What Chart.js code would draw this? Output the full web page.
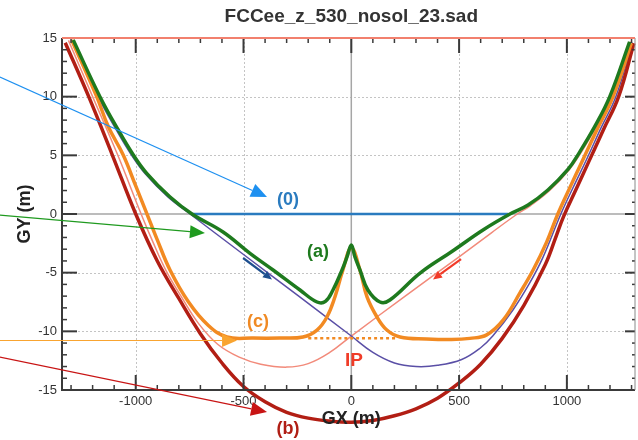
<!DOCTYPE html>
<html><head><meta charset="utf-8">
<script src="https://cdn.jsdelivr.net/npm/chart.js@4"></script>
<style>html,body{margin:0;padding:0;background:#fff}</style>
</head><body>
<canvas id="c" width="638" height="440"></canvas>
<script>
// ---- data (GX in m, GY in m) ----
const title = "FCCee_z_530_nosol_23.sad";
const xTickValues = [-1000, -500, 0, 500, 1000];
const yTickValues = [-15, -10, -5, 0, 5, 10, 15];

// (a) green
const aX = [-1290,-1166,-1081,-1011,-949,-842,-739,-595,-470,-363,-238,-159,-120,-85,-43,-20,0,17,40,77,133,179,319,470,611,736,820,912,1005,1060,1129,1199,1291];
const aY = [14.83,10.0,7.16,5.03,3.47,1.47,0,-1.53,-3.35,-4.77,-6.48,-7.5,-7.45,-6.48,-4.77,-3.66,-2.64,-3.66,-4.77,-6.48,-7.5,-7.33,-5.03,-3.15,-1.36,0,0.77,2.05,3.8,5.3,7.44,10.0,14.68];

// (c) orange
const cX = [-1297,-1181,-1127,-1058,-1000,-949,-900,-841,-755,-663,-577,-456,-331,-224,-159,-113,-76,-39,0,40,73,119,165,226,350,465,550,628,705,783,844,906,958,1010,1070,1140,1214,1299];
const cY = [14.83,10.0,7.44,5.03,2.4,0.06,-2.2,-4.77,-7.5,-9.5,-10.48,-10.57,-10.57,-10.48,-9.89,-8.78,-7.07,-4.77,-2.9,-4.77,-7.07,-8.78,-9.89,-10.48,-10.65,-10.7,-10.6,-10.3,-9.03,-6.7,-4.75,-2.4,0,2.1,4.45,7.2,10.0,14.55];

// (b) dark red
const bX = [-1327,-1218,-1108,-1000,-900,-800,-700,-600,-500,-400,-300,-200,-100,0,100,200,300,400,500,600,700,800,900,950,985,1040,1100,1170,1240,1311];
const bY = [14.6,10,5,0,-4.0,-7.2,-10.2,-12.7,-14.7,-16.0,-16.9,-17.4,-17.65,-17.75,-17.6,-17.2,-16.6,-15.7,-14.4,-12.8,-10.6,-7.8,-4.3,-1.9,-0.2,2.0,4.4,7.2,10,14.55];

// thin purple (left beam line through IP)
const purpleX = [-1298,-1175,-1090,-1020,-958,-852,-748,-500,-250,0,100,200,300,400,512,600,656,749,827,889,972,1030,1090,1160,1227,1305];
const purpleY = [14.83,10,7.16,5.03,3.47,1.47,0,-3.45,-6.92,-10.4,-11.8,-12.7,-13.0,-12.9,-12.4,-11.4,-10.4,-8.2,-5.9,-3.7,0,2.3,4.6,7.4,10,14.6];

// thin pink (right beam line through IP)
const pinkX = [-1312,-1200,-1083,-975,-920,-860,-790,-710,-620,-520,-420,-300,-200,-100,0,250,500,650,770,830,920,1012,1068,1135,1205,1296];
const pinkY = [14.8,10,5,0,-2.4,-4.8,-7.0,-9.3,-11.1,-12.2,-12.8,-13.05,-12.75,-11.8,-10.4,-7.0,-3.65,-1.6,0,0.7,2.0,3.8,5.3,7.4,10,14.7];

// (0) reference orbit
const zeroLineX = [-738, 728];
const zeroLineY = [0, 0];

// IP level (dotted)
const ipLevelX = [-200, 214];
const ipLevelY = [-10.6, -10.6];

// ---- annotations (in data coordinates) ----
const arrows = [
  {from:[-1630,11.68], to:[-391,1.45],  color:'#1e90f0', lw:1.2, hl:16, hw:14},
  {from:[-1630,-0.09], to:[-679,-1.62], color:'#1f9a1f', lw:1.2, hl:15, hw:13},
  {from:[-1630,-10.78],to:[-530,-10.78],color:'#f9a430', lw:1.2, hl:15, hw:13},
  {from:[-1630,-12.19],to:[-391,-16.88],color:'#c81414', lw:1.2, hl:16, hw:14},
  {from:[-502,-3.75],  to:[-368,-5.58], color:'#1d4f8f', lw:2.2, hl:9,  hw:8},
  {from:[509,-3.84],   to:[379,-5.58],  color:'#f23a28', lw:2.2, hl:9,  hw:8}
];
const labels = [
  {text:'(0)', at:[-294,1.19],   color:'#2a7bbf', size:18},
  {text:'(a)', at:[-154,-3.24],  color:'#1e7a1e', size:18},
  {text:'(c)', at:[-433,-9.2],   color:'#f08a24', size:18},
  {text:'IP',  at:[12,-12.53],   color:'#f03c28', size:19},
  {text:'(b)', at:[-294,-18.32], color:'#b01e14', size:18}
];

const pts = (xs, ys) => xs.map((x, i) => ({x, y: ys[i]}));
const FONT = "'Liberation Sans', Arial, Helvetica, sans-serif";

function arrow(ctx, x1, y1, x2, y2, color, lw, hl, hw) {
  const ang = Math.atan2(y2 - y1, x2 - x1);
  const bx = x2 - hl * Math.cos(ang), by = y2 - hl * Math.sin(ang);
  ctx.strokeStyle = color; ctx.lineWidth = lw;
  ctx.beginPath(); ctx.moveTo(x1, y1); ctx.lineTo(bx, by); ctx.stroke();
  ctx.fillStyle = color; ctx.beginPath(); ctx.moveTo(x2, y2);
  ctx.lineTo(bx + hw / 2 * Math.sin(ang), by - hw / 2 * Math.cos(ang));
  ctx.lineTo(bx - hw / 2 * Math.sin(ang), by + hw / 2 * Math.cos(ang));
  ctx.closePath(); ctx.fill();
}

const framePlugin = {
  id: 'frame',
  beforeDatasetsDraw(chart) {
    const {ctx, chartArea: a, scales: {x, y}} = chart;
    ctx.save();
    ctx.strokeStyle = '#c4c4c4'; ctx.lineWidth = 1; ctx.setLineDash([2, 2]);
    xTickValues.forEach(v => { if (v === 0) return; const p = Math.round(x.getPixelForValue(v)) + 0.5;
      ctx.beginPath(); ctx.moveTo(p, a.top); ctx.lineTo(p, a.bottom); ctx.stroke(); });
    yTickValues.forEach(v => { if (v === 0 || v === 15 || v === -15) return; const p = Math.round(y.getPixelForValue(v)) + 0.5;
      ctx.beginPath(); ctx.moveTo(a.left, p); ctx.lineTo(a.right, p); ctx.stroke(); });
    ctx.setLineDash([]);
    ctx.strokeStyle = '#a6a6a6'; ctx.lineWidth = 1.5;
    const x0 = x.getPixelForValue(0), y0 = y.getPixelForValue(0);
    ctx.beginPath(); ctx.moveTo(x0, a.top); ctx.lineTo(x0, a.bottom); ctx.stroke();
    ctx.beginPath(); ctx.moveTo(a.left, y0); ctx.lineTo(a.right, y0); ctx.stroke();
    ctx.restore();
  },
  afterDatasetsDraw(chart) {
    const {ctx, chartArea: a, scales: {x, y}} = chart;
    ctx.save();
    ctx.strokeStyle = '#3a3a3a';
    for (let v = -1300; v <= 1300; v += 100) {
      const p = x.getPixelForValue(v); if (p < a.left || p > a.right) continue;
      const major = v % 500 === 0; const L = major ? 15 : 5;
      ctx.lineWidth = major ? 2 : 1.5;
      ctx.beginPath(); ctx.moveTo(p, a.bottom); ctx.lineTo(p, a.bottom - L); ctx.stroke();
      ctx.beginPath(); ctx.moveTo(p, a.top); ctx.lineTo(p, a.top + L); ctx.stroke();
    }
    for (let v = -15; v <= 15; v += 1) {
      const p = y.getPixelForValue(v);
      const major = v % 5 === 0; const L = major ? 15 : 5;
      ctx.lineWidth = major ? 2 : 1.5;
      ctx.beginPath(); ctx.moveTo(a.left, p); ctx.lineTo(a.left + L, p); ctx.stroke();
      ctx.beginPath(); ctx.moveTo(a.right, p); ctx.lineTo(a.right - (major ? 10 : 3), p); ctx.stroke();
    }
    ctx.lineWidth = 2; ctx.strokeStyle = '#3a3a3a';
    ctx.beginPath(); ctx.moveTo(a.left, a.top); ctx.lineTo(a.left, a.bottom); ctx.lineTo(a.right, a.bottom); ctx.stroke();
    ctx.strokeStyle = '#8a8a8a'; ctx.lineWidth = 1;
    ctx.beginPath(); ctx.moveTo(a.right, a.top); ctx.lineTo(a.right, a.bottom); ctx.stroke();
    ctx.strokeStyle = '#f2806e'; ctx.lineWidth = 2;
    ctx.beginPath(); ctx.moveTo(a.left, a.top); ctx.lineTo(a.right, a.top); ctx.stroke();
    ctx.restore();
  },
  afterDraw(chart) {
    const {ctx, scales: {x, y}} = chart;
    ctx.save();
    arrows.forEach(r => arrow(ctx, x.getPixelForValue(r.from[0]), y.getPixelForValue(r.from[1]),
      x.getPixelForValue(r.to[0]), y.getPixelForValue(r.to[1]), r.color, r.lw, r.hl, r.hw));
    ctx.textAlign = 'center'; ctx.textBaseline = 'middle';
    labels.forEach(l => { ctx.fillStyle = l.color; ctx.font = `bold ${l.size}px ${FONT}`;
      ctx.fillText(l.text, x.getPixelForValue(l.at[0]), y.getPixelForValue(l.at[1])); });
    ctx.fillStyle = '#222';
    ctx.font = `bold 18px ${FONT}`;
    ctx.fillText('GX (m)', x.getPixelForValue(0), 419);
    ctx.save(); ctx.translate(25, y.getPixelForValue(0)); ctx.rotate(-Math.PI / 2);
    ctx.fillText('GY (m)', 0, 0); ctx.restore();
    ctx.fillStyle = '#333';
    ctx.font = `bold 19px ${FONT}`;
    ctx.fillText(title, x.getPixelForValue(0), 17);
    ctx.restore();
  }
};

const base = {showLine: true, pointRadius: 0, pointHoverRadius: 0, fill: false, tension: 0.4};
new Chart(document.getElementById('c'), {
  type: 'scatter',
  data: {
    datasets: [
      {...base, label: '(a)', data: pts(aX, aY), borderColor: '#1e7a1e', borderWidth: 3.5},
      {...base, label: '(c)', data: pts(cX, cY), borderColor: '#f28a22', borderWidth: 3.5},
      {...base, label: '(b)', data: pts(bX, bY), borderColor: '#b21e14', borderWidth: 3.5, clip: false},
      {...base, label: 'IP level', data: pts(ipLevelX, ipLevelY), borderColor: '#f28a22', borderWidth: 2.5, borderDash: [3, 3]},
      {...base, label: '(0)', data: pts(zeroLineX, zeroLineY), borderColor: '#2a7bbf', borderWidth: 2.5},
      {...base, label: 'left', data: pts(purpleX, purpleY), borderColor: '#5a4fa6', borderWidth: 1.5},
      {...base, label: 'right', data: pts(pinkX, pinkY), borderColor: '#f28a7a', borderWidth: 1.5}
    ]
  },
  options: {
    responsive: false, animation: false, devicePixelRatio: 1,
    layout: {padding: {top: 38, right: 3, left: 0, bottom: 0}},
    plugins: {legend: {display: false}, tooltip: {enabled: false}, title: {display: false}},
    scales: {
      x: {type: 'linear', min: -1342, max: 1316,
        afterBuildTicks: s => { s.ticks = xTickValues.map(v => ({value: v})); },
        afterFit: s => { s.height = 50; },
        grid: {display: false, drawTicks: false}, border: {display: false},
        ticks: {font: {family: FONT, size: 13}, color: '#333', padding: 4, autoSkip: false, maxRotation: 0, callback: v => String(v)}},
      y: {type: 'linear', min: -15, max: 15,
        afterBuildTicks: s => { s.ticks = yTickValues.map(v => ({value: v})); },
        afterFit: s => { s.width = 62; },
        grid: {display: false, drawTicks: false}, border: {display: false},
        ticks: {font: {family: FONT, size: 13}, color: '#333', padding: 5, autoSkip: false, callback: v => String(v)}}
    }
  },
  plugins: [framePlugin]
});
</script>
</body></html>
